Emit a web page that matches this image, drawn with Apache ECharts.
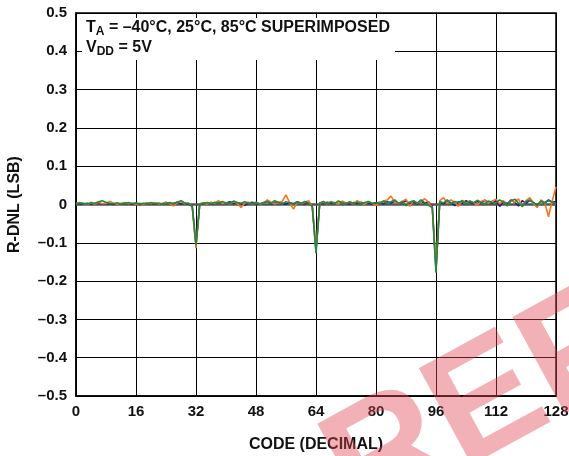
<!DOCTYPE html>
<html>
<head>
<meta charset="utf-8">
<script src="https://cdn.jsdelivr.net/npm/echarts@6/dist/echarts.min.js"></script>
<style>
  html, body { margin: 0; padding: 0; background: #fff; }
  #chart { width: 569px; height: 456px; }
</style>
</head>
<body>
<div id="chart"></div>
<script>
// R-DNL vs code, three temperatures superimposed
var xTicks = [0, 16, 32, 48, 64, 80, 96, 112, 128];
var yTicks = [-0.5, -0.4, -0.3, -0.2, -0.1, 0, 0.1, 0.2, 0.3, 0.4, 0.5];

// codes 0..128
var blueDnl = [
  0.004, 0.002, 0.001, 0.003, 0.000, 0.002, 0.004, 0.001, 0.003, 0.002, 0.000, 0.003, 0.001, 0.004, 0.002, 0.001,
  0.003, 0.000, 0.002, 0.004, 0.001, 0.003, 0.000, 0.002, 0.005, 0.001, 0.003, 0.006, 0.002, 0.004, 0.001, -0.004,
  -0.105,
  0.001, 0.004, 0.002, 0.005, 0.003, 0.006, 0.002, 0.004, 0.007, 0.003, 0.005, 0.002, -0.002, 0.004, 0.006,
  0.003, 0.001, 0.005, 0.008, 0.002, 0.004, 0.006, 0.003, 0.001, 0.005, 0.002, 0.007, 0.004, 0.002, 0.006, -0.003,
  -0.120,
  0.004, 0.002, 0.006, 0.003, 0.005, 0.002, 0.007, 0.004, 0.001, 0.005, 0.003, 0.006, 0.002, 0.004, 0.001,
  0.003, 0.006, 0.002, 0.007, 0.004, 0.008, 0.002, 0.005, 0.009, 0.003, 0.006, 0.002, 0.008, 0.004, 0.007, -0.004,
  -0.170,
  0.006, 0.002, 0.009, 0.004, -0.003, 0.007, 0.003, 0.010, 0.005, 0.002, 0.008, 0.004, 0.011, 0.006, 0.003,
  0.010, -0.005, 0.008, 0.002, 0.012, 0.006, -0.004, 0.010, 0.003, 0.011, 0.005, -0.002, 0.009, 0.004, 0.012, 0.006, 0.008
];
var orangeDnl = [
  0.003, 0.005, 0.002, 0.000, 0.004, 0.001, 0.006, 0.002, 0.003, 0.008, 0.004, 0.001, 0.003, 0.005, 0.002, 0.004,
  0.001, 0.003, 0.000, 0.004, 0.002, 0.005, 0.001, 0.003, 0.006, 0.002, -0.004, 0.005, 0.008, 0.002, 0.004, -0.006,
  -0.114,
  0.002, 0.004, 0.001, 0.006, 0.003, 0.010, 0.002, 0.005, 0.001, 0.007, 0.003, -0.008, 0.004, 0.006, 0.002,
  0.005, 0.001, 0.004, 0.012, 0.006, 0.002, 0.005, 0.008, 0.025, 0.004, -0.012, 0.006, 0.003, 0.005, 0.010, -0.005,
  -0.115,
  0.003, 0.006, 0.002, 0.008, 0.004, 0.001, 0.009, 0.003, 0.006, 0.002, 0.010, 0.004, 0.001, 0.007, 0.003,
  -0.002, 0.005, 0.009, 0.012, 0.022, 0.006, 0.002, 0.008, 0.014, -0.005, 0.010, 0.004, 0.008, 0.015, 0.006, -0.008,
  -0.158,
  0.010, 0.018, 0.004, 0.012, 0.006, -0.005, 0.011, 0.003, 0.009, 0.005, -0.002, 0.008, 0.012, 0.004, 0.009,
  0.014, 0.002, 0.010, -0.004, 0.012, 0.006, 0.015, -0.006, 0.010, 0.018, 0.003, -0.008, 0.012, 0.005, -0.032, 0.010, 0.046
];
var greenDnl = [
  0.002, 0.004, 0.003, 0.001, 0.005, 0.003, 0.007, 0.010, 0.006, 0.003, 0.002, 0.004, 0.001, 0.003, 0.005, 0.002,
  0.004, 0.002, 0.003, 0.001, 0.005, 0.002, 0.004, 0.001, 0.003, 0.005, 0.002, 0.006, 0.010, 0.004, 0.003, -0.006,
  -0.106,
  0.001, 0.003, 0.005, 0.002, 0.006, 0.003, 0.008, 0.004, 0.002, 0.009, 0.005, 0.003, 0.007, 0.004, 0.002,
  0.006, 0.002, 0.004, 0.008, 0.003, 0.010, 0.005, 0.002, 0.007, 0.004, 0.001, 0.006, 0.003, 0.008, 0.004, -0.006,
  -0.127,
  0.004, 0.008, 0.002, 0.006, 0.003, 0.009, 0.004, 0.002, 0.007, 0.003, 0.006, 0.002, 0.005, 0.008, 0.003,
  0.005, 0.002, 0.009, 0.004, 0.007, 0.012, 0.003, 0.008, -0.003, 0.006, 0.010, 0.003, 0.012, 0.005, -0.002, -0.008,
  -0.178,
  0.008, 0.004, 0.012, 0.002, 0.008, 0.005, 0.010, 0.001, 0.009, 0.004, 0.011, 0.006, 0.002, 0.009, 0.005,
  0.004, 0.012, 0.006, -0.003, 0.010, 0.014, 0.004, -0.005, 0.008, 0.012, 0.005, -0.003, 0.009, 0.004, 0.010, 0.006, 0.002
];

var FONT = 'Arial, "Liberation Sans", Helvetica, sans-serif';

function pairs(arr) {
  var out = [];
  for (var i = 0; i < arr.length; i++) {
    out.push([i, arr[i]]);
  }
  return out;
}

function dnlSeries(name, arr, color, z) {
  return {
    name: name,
    type: 'line',
    data: pairs(arr),
    showSymbol: false,
    symbol: 'none',
    z: z,
    lineStyle: { color: color, width: 1.6 },
    animation: false
  };
}

var chart = echarts.init(document.getElementById('chart'));

chart.setOption({
  animation: false,
  grid: {
    left: 76, right: 13, top: 13, bottom: 60,
    outerBoundsMode: 'none',
    containLabel: false,
    show: true, borderColor: '#000', borderWidth: 1.5,
    backgroundColor: 'transparent'
  },
  xAxis: {
    type: 'value',
    min: xTicks[0],
    max: xTicks[xTicks.length - 1],
    interval: 16,
    name: 'CODE (DECIMAL)',
    nameLocation: 'middle',
    nameGap: 41,
    nameTextStyle: { fontFamily: FONT, fontWeight: 'bold', fontSize: 16, color: '#111' },
    axisLine: { show: true, onZero: false, lineStyle: { color: '#000', width: 1.5 } },
    axisTick: { show: true, inside: true, length: 5, lineStyle: { color: '#000' } },
    axisLabel: { margin: 8, fontFamily: FONT, fontWeight: 'bold', fontSize: 15, color: '#111' },
    splitLine: { show: true, lineStyle: { color: '#000', width: 1 } }
  },
  yAxis: {
    type: 'value',
    min: yTicks[0],
    max: yTicks[yTicks.length - 1],
    interval: 0.1,
    name: 'R-DNL (LSB)',
    nameLocation: 'middle',
    nameGap: 53,
    nameRotate: 90,
    nameTextStyle: { fontFamily: FONT, fontWeight: 'bold', fontSize: 16, color: '#111' },
    axisLine: { show: true, lineStyle: { color: '#000', width: 1.5 } },
    axisTick: { show: true, inside: true, length: 5, lineStyle: { color: '#000' } },
    axisLabel: {
      margin: 9, fontFamily: FONT, fontWeight: 'bold', fontSize: 15, color: '#111',
      formatter: function (v) {
        if (Math.abs(v) < 1e-9) return '0';
        return v.toFixed(1).replace('-', '\u2013');
      }
    },
    splitLine: { show: true, lineStyle: { color: '#000', width: 1 } }
  },
  series: [
    {
      name: 'zero',
      type: 'line',
      data: [[xTicks[0], 0], [xTicks[xTicks.length - 1], 0]],
      symbol: 'none',
      z: 1,
      lineStyle: { color: '#555', width: 2.5 },
      silent: true
    },
    dnlSeries('85C', blueDnl, '#2d1a8e', 2),
    dnlSeries('25C', orangeDnl, '#f87422', 3),
    dnlSeries('-40C', greenDnl, '#1d8a3e', 4)
  ],
  graphic: [
    {
      type: 'rect',
      z: 50,
      shape: { x: 82, y: 18, width: 313, height: 42 },
      style: { fill: '#fff' }
    },
    {
      type: 'text',
      z: 51,
      left: 86, top: 20,
      style: {
        text: '{b|T}{s|A}{b| = \u201340\u00b0C, 25\u00b0C, 85\u00b0C SUPERIMPOSED}',
        rich: {
          b: { fontFamily: FONT, fontWeight: 'bold', fontSize: 16, fill: '#111' },
          s: { fontFamily: FONT, fontWeight: 'bold', fontSize: 12, fill: '#111', padding: [8, 0, 0, 0] }
        }
      }
    },
    {
      type: 'text',
      z: 51,
      left: 86, top: 40,
      style: {
        text: '{b|V}{s|DD}{b| = 5V}',
        rich: {
          b: { fontFamily: FONT, fontWeight: 'bold', fontSize: 16, fill: '#111' },
          s: { fontFamily: FONT, fontWeight: 'bold', fontSize: 12, fill: '#111', padding: [8, 0, 0, 0] }
        }
      }
    },
    {
      type: 'text',
      z: 100,
      x: 480, y: 410,
      rotation: 0.5,
      silent: true,
      style: {
        text: 'REF',
        fontFamily: FONT,
        fontWeight: 'bold',
        fontSize: 160,
        fill: 'rgba(222, 70, 82, 0.42)',
        align: 'center',
        verticalAlign: 'middle'
      }
    }
  ]
});
</script>
</body>
</html>
